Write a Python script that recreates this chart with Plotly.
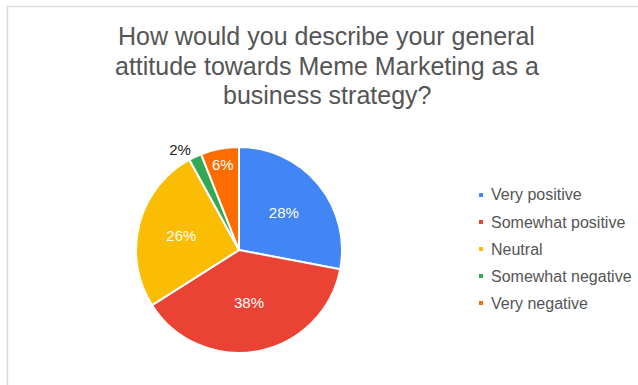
import plotly.graph_objects as go

# Survey responses (percent of respondents)
categories = ["Very positive", "Somewhat positive", "Neutral", "Somewhat negative", "Very negative"]
shares = [28, 38, 26, 2, 6]
colors = ["#4285F4", "#EA4335", "#FBBC04", "#34A853", "#FF6D01"]
label_pos = ["inside", "inside", "inside", "outside", "inside"]

title_lines = ["How would you describe your general",
               "attitude towards Meme Marketing as a",
               "business strategy?"]

W, H = 638, 385
FONT = "Liberation Sans, Arial, sans-serif"

# pie placement in pixels
cx, cy, r = 239, 250, 103

fig = go.Figure()
fig.add_trace(go.Pie(
    labels=categories,
    values=shares,
    sort=False,
    direction="clockwise",
    rotation=0,
    marker=dict(colors=colors, line=dict(color="white", width=2)),
    texttemplate="%{value}%",
    textposition=label_pos,
    insidetextorientation="horizontal",
    insidetextfont=dict(color="white", size=15, family=FONT),
    outsidetextfont=dict(color="#222222", size=15, family=FONT),
    showlegend=False,
    hoverinfo="label+percent",
    domain=dict(x=[(cx - r) / W, (cx + r) / W],
                y=[1 - (cy + r) / H, 1 - (cy - r) / H]),
))

# legend: small square swatch plus category name
shapes = []
annotations = []
leg_x, leg_y0, leg_dy, sq = 481, 195, 27, 4
for i, (name, col) in enumerate(zip(categories, colors)):
    yc = leg_y0 + i * leg_dy
    shapes.append(dict(type="rect", xref="paper", yref="paper",
                       x0=(leg_x - sq / 2) / W, x1=(leg_x + sq / 2) / W,
                       y0=1 - (yc + sq / 2) / H, y1=1 - (yc - sq / 2) / H,
                       fillcolor=col, line=dict(width=0)))
    annotations.append(dict(text=name, xref="paper", yref="paper",
                            x=(leg_x + 8) / W, y=1 - yc / H,
                            xanchor="left", yanchor="middle", showarrow=False,
                            font=dict(size=16, color="#555555", family=FONT)))

# chart title, one annotation per line for tighter line spacing
title_y0, title_dy = 36, 29.5
for i, line in enumerate(title_lines):
    annotations.append(dict(text=line, xref="paper", yref="paper",
                            x=327 / W, y=1 - (title_y0 + i * title_dy) / H,
                            xanchor="center", yanchor="middle", showarrow=False,
                            font=dict(size=25, color="#555555", family=FONT)))

# thin frame along top and left edges
shapes.append(dict(type="line", xref="paper", yref="paper",
                   x0=7 / W, x1=1, y0=1 - 6.5 / H, y1=1 - 6.5 / H,
                   line=dict(color="#DADADA", width=1.5)))
shapes.append(dict(type="line", xref="paper", yref="paper",
                   x0=7.5 / W, x1=7.5 / W, y0=0, y1=1 - 6 / H,
                   line=dict(color="#DADADA", width=1.5)))

fig.update_layout(
    width=W, height=H,
    margin=dict(l=0, r=0, t=0, b=0),
    paper_bgcolor="white",
    plot_bgcolor="white",
    shapes=shapes,
    annotations=annotations,
)

fig.write_html("out.html")
